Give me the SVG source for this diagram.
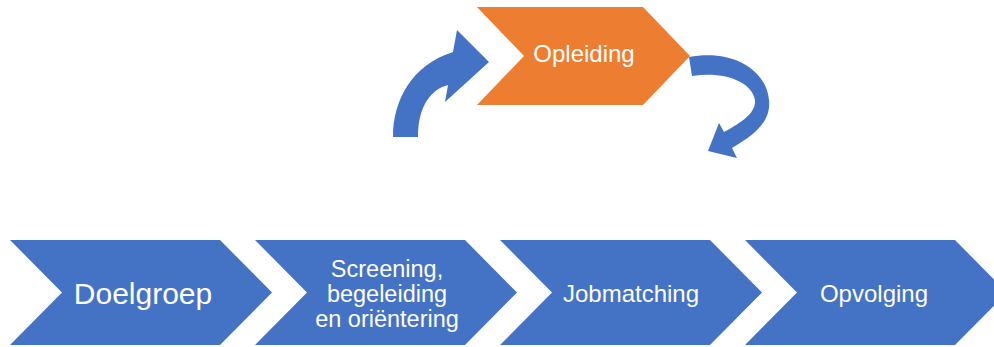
<svg xmlns="http://www.w3.org/2000/svg" width="994" height="347" viewBox="0 0 994 347">
  <style>
    .blue { fill: #4472C4; }
    .orange { fill: #ED7D31; }
    .lbl { font-family: "Liberation Sans", Arial, sans-serif; fill: #FFFFFF; text-anchor: middle; }
  </style>
  <rect x="0" y="0" width="994" height="347" fill="#FFFFFF"/>
  <g id="connectors">
    <path class="blue" d="M393,137 C393,100 412,65 453,52 L457,30 L489,62 L445,102 L448,85 C432,89 418,105 418,137 Z"/>
    <path class="blue" d="M689,57 C730,49 766,68 769,100 C771,121 756,134 732,148 L737,158 L708,151 L719,123 L724,132 C744,121 756,112 755,100 C752,82 725,71 692,76 Z"/>
  </g>
  <g id="opleiding">
    <polygon class="orange" points="477,7 643,7 690,56 643,105 477,105 524,56"/>
    <text class="lbl" x="584" y="62" font-size="24">Opleiding</text>
  </g>
  <g id="doelgroep">
    <polygon class="blue" points="10,240 220,240 272,292.5 220,345 10,345 62,292.5"/>
    <text class="lbl" x="143" y="304" font-size="30">Doelgroep</text>
  </g>
  <g id="screening">
    <polygon class="blue" points="255,240 465,240 517,292.5 465,345 255,345 307,292.5"/>
    <text class="lbl" x="387" y="277" font-size="23.5">Screening,</text>
    <text class="lbl" x="387" y="302" font-size="23.5">begeleiding</text>
    <text class="lbl" x="387" y="327" font-size="23.5">en oriëntering</text>
  </g>
  <g id="jobmatching">
    <polygon class="blue" points="500,240 710,240 762,292.5 710,345 500,345 552,292.5"/>
    <text class="lbl" x="631" y="302" font-size="24">Jobmatching</text>
  </g>
  <g id="opvolging">
    <polygon class="blue" points="745,240 955,240 1007,292.5 955,345 745,345 797,292.5"/>
    <text class="lbl" x="874" y="302" font-size="24">Opvolging</text>
  </g>
</svg>
